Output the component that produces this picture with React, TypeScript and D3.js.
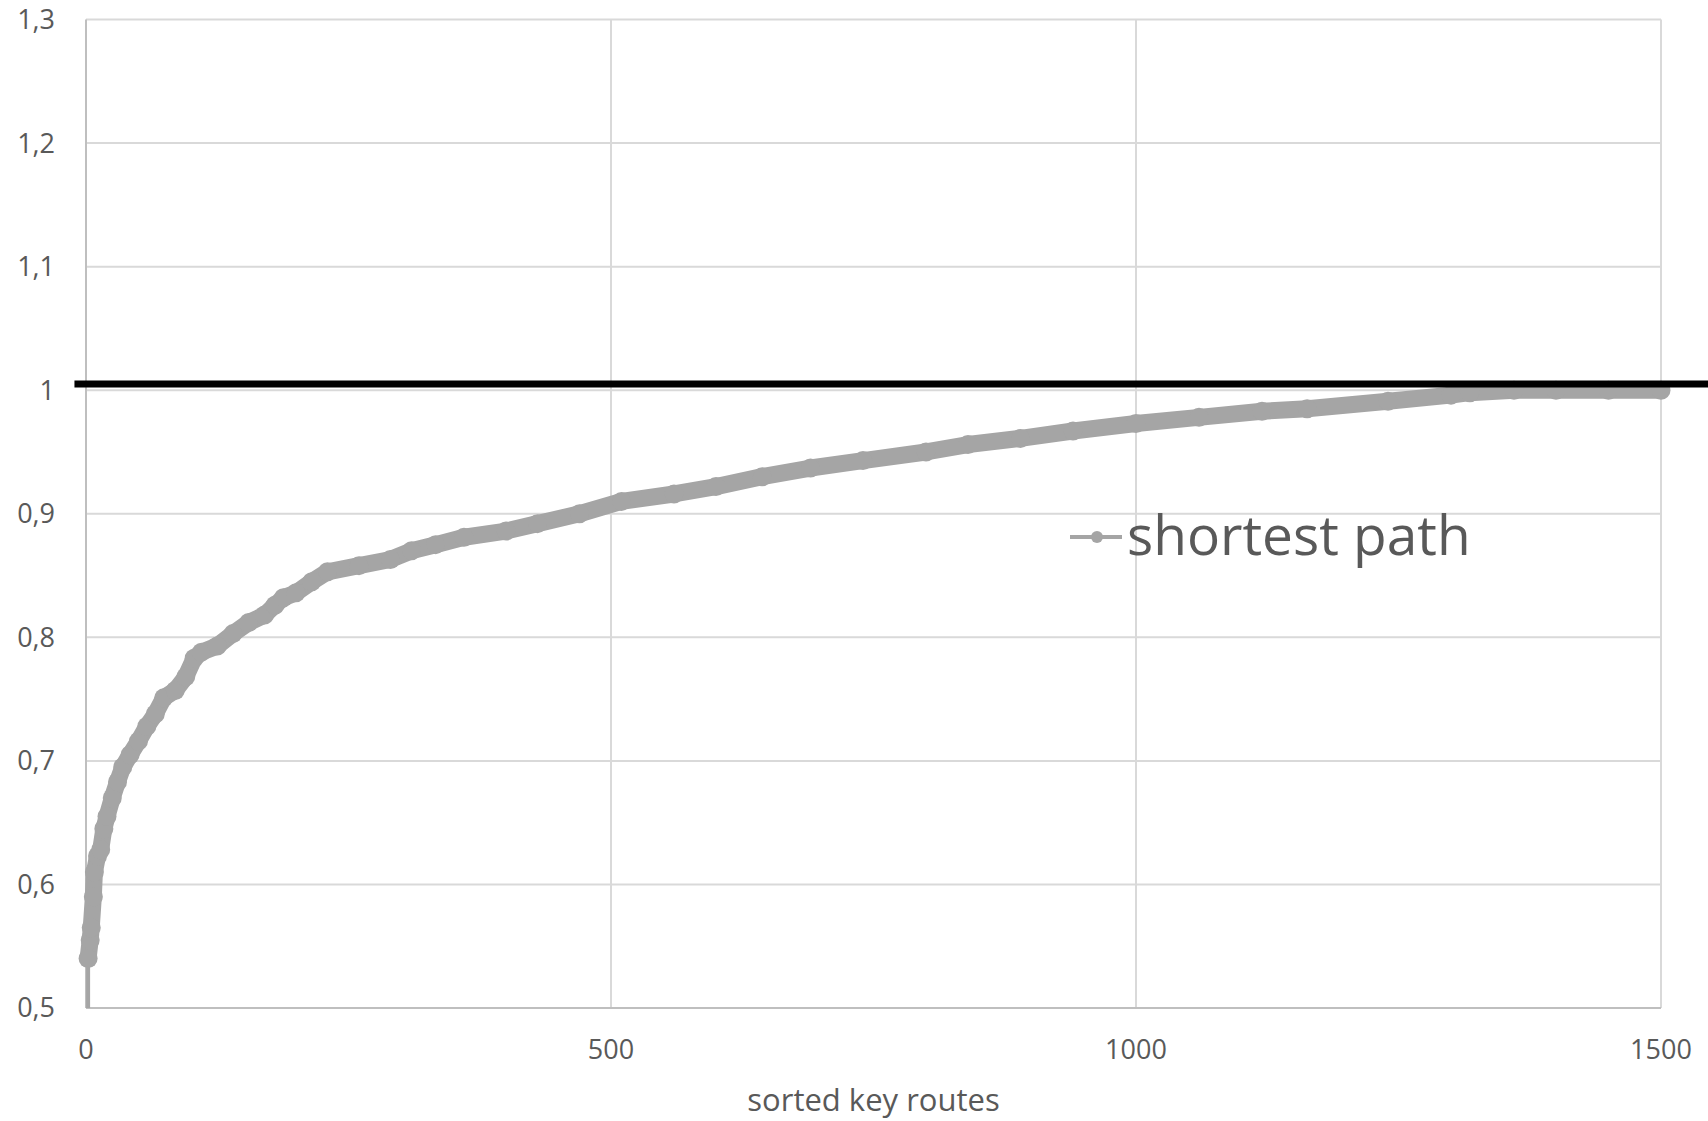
import React from "react";
import * as d3 from "d3";

const routeIndex = [2, 2, 4, 5, 7, 8, 11, 14, 17, 20, 25, 30, 35, 42, 50, 58, 66, 74, 85, 95, 103, 110, 125, 140, 155, 170, 180, 188, 200, 215, 230, 260, 290, 310, 333, 360, 400, 430, 470, 510, 560, 600, 644, 690, 740, 800, 840, 890, 940, 1000, 1060, 1120, 1163, 1240, 1300, 1318, 1360, 1400, 1450, 1500];
const ratio = [0.5, 0.54, 0.555, 0.565, 0.59, 0.61, 0.623, 0.628, 0.645, 0.655, 0.67, 0.683, 0.695, 0.705, 0.716, 0.728, 0.738, 0.751, 0.757, 0.768, 0.783, 0.788, 0.793, 0.803, 0.812, 0.818, 0.826, 0.832, 0.836, 0.845, 0.853, 0.858, 0.863, 0.87, 0.875, 0.881, 0.886, 0.892, 0.9, 0.91, 0.916, 0.922, 0.93, 0.937, 0.943, 0.95, 0.956, 0.961, 0.967, 0.973, 0.978, 0.983, 0.985, 0.991, 0.996, 0.998, 1.0, 1.0, 1.0, 1.0];
const yTicks = [0.5, 0.6, 0.7, 0.8, 0.9, 1, 1.1, 1.2, 1.3];
const xTicks = [0, 500, 1000, 1500];
const referenceValue = 1.005;
const seriesName = "shortest path";
const xTitle = "sorted key routes";

const W = 1708;
const H = 1121;
const L = 86, R = 1661, T = 19.5, B = 1008;
const FONT = "'Open Sans', 'Noto Sans', sans-serif";

export default function App() {
  const x = d3.scaleLinear().domain([0, 1500]).range([L, R]);
  const y = d3.scaleLinear().domain([0.5, 1.3]).range([B, T]);
  const pts = routeIndex.map((d, i) => [d, ratio[i]] as [number, number]);
  const line = d3.line<[number, number]>().x(d => x(d[0])).y(d => y(d[1]));
  const fmt = (v: number) => (Number.isInteger(v) ? String(v) : v.toFixed(1).replace(".", ","));
  return (
    <svg width={W} height={H} style={{ position: "absolute", left: 0, top: 0, background: "#fff" }}>
      <rect width={W} height={H} fill="#fff" />
      {yTicks.map(t => (
        <line key={"gy" + t} x1={L} x2={R} y1={y(t)} y2={y(t)} stroke="#d9d9d9" strokeWidth={2} />
      ))}
      {xTicks.slice(1).map(t => (
        <line key={"gx" + t} x1={x(t)} x2={x(t)} y1={T} y2={B} stroke="#d9d9d9" strokeWidth={2} />
      ))}
      <line x1={L} x2={L} y1={T} y2={B} stroke="#bfbfbf" strokeWidth={2} />
      <line x1={L} x2={R} y1={B} y2={B} stroke="#bfbfbf" strokeWidth={2} />
      {yTicks.map(t => (
        <text key={"ty" + t} x={55} y={y(t)} dy="0.35em" textAnchor="end" fontFamily={FONT} fontSize={27} fill="#595959">
          {fmt(t)}
        </text>
      ))}
      {xTicks.map(t => (
        <text key={"tx" + t} x={x(t)} y={1059} textAnchor="middle" fontFamily={FONT} fontSize={27} fill="#595959">
          {t}
        </text>
      ))}
      <text x={(L + R) / 2} y={1111} textAnchor="middle" fontFamily={FONT} fontSize={31} fill="#595959">
        {xTitle}
      </text>
      <path d={line(pts) || ""} fill="none" stroke="#a5a5a5" strokeWidth={4} strokeLinejoin="round" />
      <path d={line(pts.slice(1)) || ""} fill="none" stroke="#a5a5a5" strokeWidth={17} strokeLinejoin="round" strokeLinecap="round" />
      {pts.slice(1).map((p, i) => (
        <circle key={"c" + i} cx={x(p[0])} cy={y(p[1])} r={9.5} fill="#a5a5a5" />
      ))}
      <line x1={x(-11)} x2={W} y1={y(referenceValue)} y2={y(referenceValue)} stroke="#000" strokeWidth={7} />
      <line x1={1070} x2={1122} y1={537} y2={537} stroke="#a5a5a5" strokeWidth={4} />
      <circle cx={1097} cy={537} r={6} fill="#a5a5a5" />
      <text x={1127} y={555} fontFamily={FONT} fontSize={55} fill="#595959">
        {seriesName}
      </text>
    </svg>
  );
}
